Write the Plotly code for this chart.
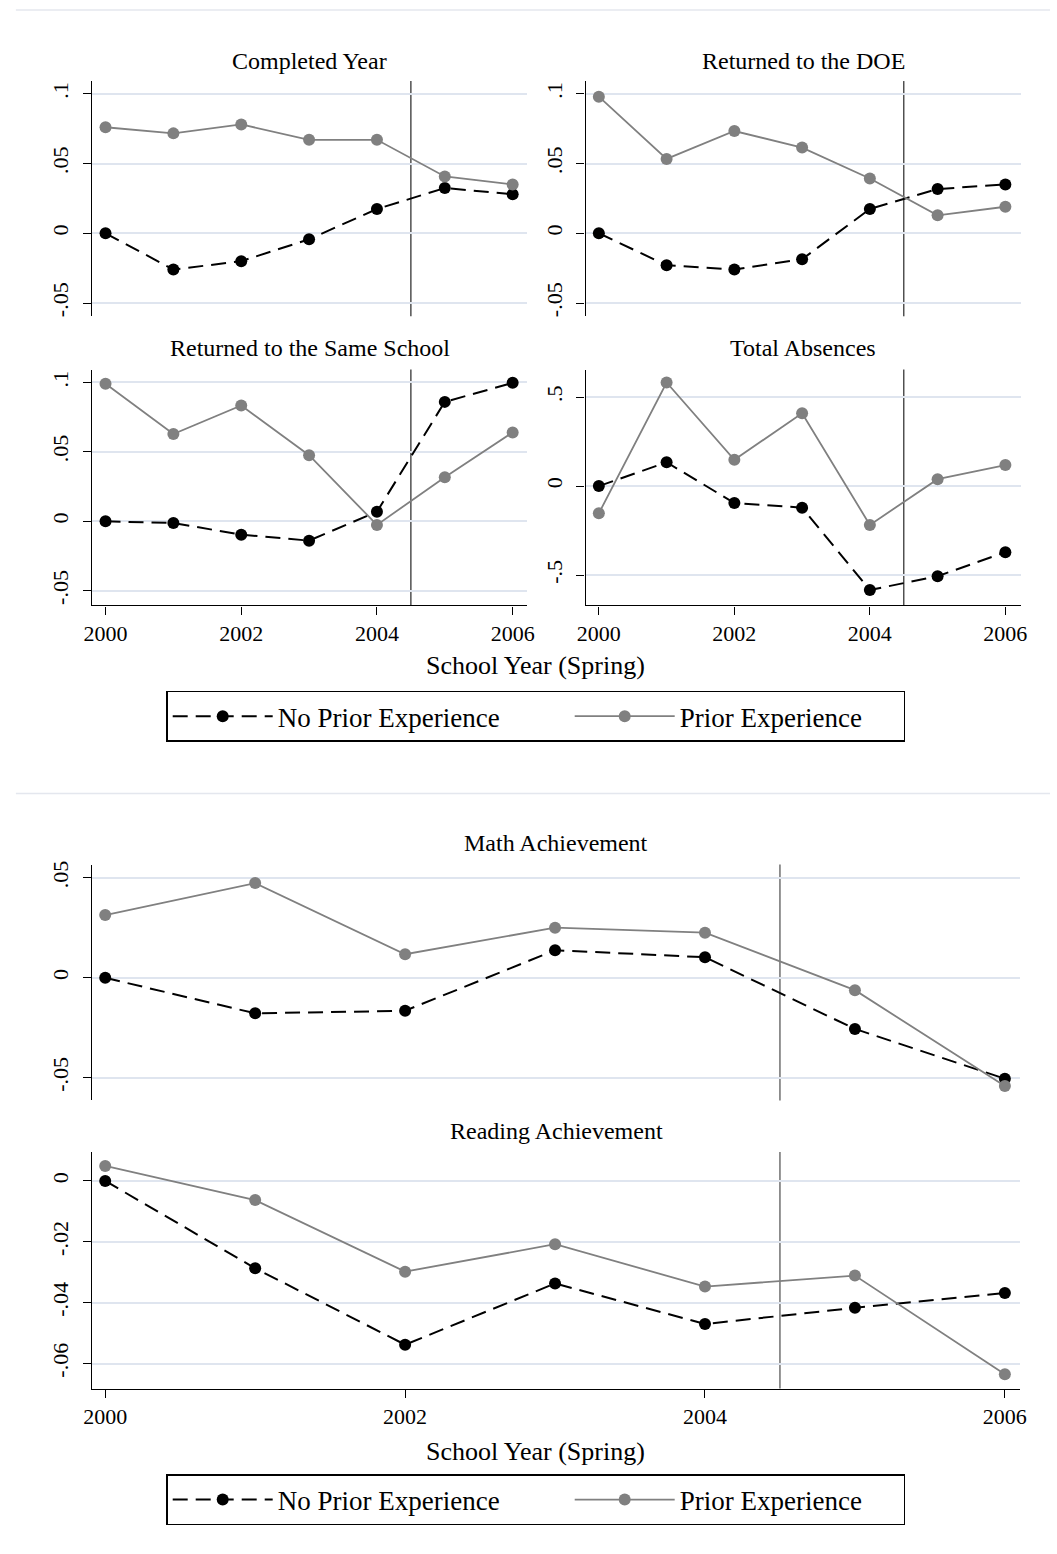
import plotly.graph_objects as go

# ---------------- data ----------------
YEARS = [2000, 2001, 2002, 2003, 2004, 2005, 2006]
CUTOFF_YEAR = 2004.5
X_TICKS = [2000, 2002, 2004, 2006]
X_TICK_TEXT = ["2000", "2002", "2004", "2006"]

SERIES_NAMES = ["No Prior Experience", "Prior Experience"]

COMPLETED_NO_PRIOR = [0.0, -0.026, -0.020, -0.0043, 0.0174, 0.0324, 0.028]
COMPLETED_PRIOR = [0.076, 0.0716, 0.078, 0.067, 0.067, 0.0407, 0.035]
DOE_NO_PRIOR = [0.0, -0.0229, -0.026, -0.0186, 0.0174, 0.0317, 0.035]
DOE_PRIOR = [0.0979, 0.0533, 0.0733, 0.0614, 0.0393, 0.0129, 0.019]
SAME_NO_PRIOR = [0.0, -0.0012, -0.0096, -0.0139, 0.0069, 0.086, 0.0997]
SAME_PRIOR = [0.099, 0.0629, 0.0834, 0.0476, -0.0026, 0.0318, 0.064]
ABS_NO_PRIOR = [0.0, 0.134, -0.095, -0.121, -0.584, -0.506, -0.371]
ABS_PRIOR = [-0.153, 0.582, 0.148, 0.409, -0.218, 0.039, 0.118]
MATH_NO_PRIOR = [0.0, -0.0178, -0.0165, 0.0138, 0.0103, -0.0256, -0.0505]
MATH_PRIOR = [0.0314, 0.0474, 0.0118, 0.0251, 0.0226, -0.0062, -0.0542]
READ_NO_PRIOR = [0.0, -0.0287, -0.0538, -0.0337, -0.047, -0.0417, -0.0368]
READ_PRIOR = [0.0049, -0.0063, -0.0298, -0.0208, -0.0347, -0.0311, -0.0635]

PANEL_TITLES = ["Completed Year", "Returned to the DOE", "Returned to the Same School",
                "Total Absences", "Math Achievement", "Reading Achievement"]
X_TITLE = "School Year (Spring)"

Y_TICKS_SMALL = [-0.05, 0, 0.05, 0.1]
Y_TICKS_SMALL_TEXT = ["-.05", "0", ".05", ".1"]
Y_TICKS_ABS = [-0.5, 0, 0.5]
Y_TICKS_ABS_TEXT = ["-.5", "0", ".5"]
Y_TICKS_MATH = [-0.05, 0, 0.05]
Y_TICKS_MATH_TEXT = ["-.05", "0", ".05"]
Y_TICKS_READ = [-0.06, -0.04, -0.02, 0]
Y_TICKS_READ_TEXT = ["-.06", "-.04", "-.02", "0"]

# ---------------- styling / layout ----------------
W, H = 1057, 1554
FONT = "Liberation Serif"
GRAY = "#808080"
GRID = "#dfe5ef"


def xd(a, b):
    return [a / W, b / W]


def yd(top, bottom):
    return [1 - bottom / H, 1 - top / H]


panels = [
    # (no prior, prior, xdomain, ydomain, xrange, yrange, yticks, yticktext, show x labels)
    (COMPLETED_NO_PRIOR, COMPLETED_PRIOR, xd(84.5, 526.2), yd(77.3, 313.3),
     [1999.804, 2006.215], [-0.0595, 0.1091], Y_TICKS_SMALL, Y_TICKS_SMALL_TEXT, False),
    (DOE_NO_PRIOR, DOE_PRIOR, xd(585.5, 1027.5), yd(77.3, 313.3),
     [1999.805, 2006.23], [-0.0595, 0.1091], Y_TICKS_SMALL, Y_TICKS_SMALL_TEXT, False),
    (SAME_NO_PRIOR, SAME_PRIOR, xd(84.5, 526.2), yd(366.7, 603.3),
     [1999.804, 2006.215], [-0.0605, 0.1093], Y_TICKS_SMALL, Y_TICKS_SMALL_TEXT, True),
    (ABS_NO_PRIOR, ABS_PRIOR, xd(585.5, 1027.5), yd(366.7, 603.3),
     [1999.805, 2006.23], [-0.670, 0.655], Y_TICKS_ABS, Y_TICKS_ABS_TEXT, True),
    (MATH_NO_PRIOR, MATH_PRIOR, xd(84.3, 1026.7), yd(863.3, 1100),
     [1999.912, 2006.102], [-0.0614, 0.0567], Y_TICKS_MATH, Y_TICKS_MATH_TEXT, False),
    (READ_NO_PRIOR, READ_PRIOR, xd(84.3, 1026.7), yd(1151.7, 1389),
     [1999.912, 2006.102], [-0.0682, 0.0095], Y_TICKS_READ, Y_TICKS_READ_TEXT, True),
]
title_pos = [(305.5, 57), (806.5, 57), (305.5, 345.5), (806.5, 345.5), (555.5, 842), (555.5, 1131)]

fig = go.Figure()
layout = dict(
    width=W, height=H, margin=dict(l=0, r=0, t=0, b=0),
    paper_bgcolor="white", plot_bgcolor="white",
    font=dict(family=FONT, color="black"),
    shapes=[], annotations=[],
)

for i, (nop, pri, xdom, ydom, xr, yr, yt, ytt, showx) in enumerate(panels):
    n = i + 1
    xa = "x" if n == 1 else f"x{n}"
    ya = "y" if n == 1 else f"y{n}"
    leg = "legend" if i < 4 else "legend2"
    show_leg = i in (0, 4)
    msize = 12
    fig.add_trace(go.Scatter(
        x=YEARS, y=nop, xaxis=xa, yaxis=ya, mode="lines+markers",
        name=SERIES_NAMES[0], legend=leg, showlegend=show_leg, legendwidth=287,
        line=dict(color="black", width=2, dash="15px,8px"),
        marker=dict(color="black", size=msize), hoverinfo="skip"))
    fig.add_trace(go.Scatter(
        x=YEARS, y=pri, xaxis=xa, yaxis=ya, mode="lines+markers",
        name=SERIES_NAMES[1], legend=leg, showlegend=show_leg, legendwidth=219,
        line=dict(color=GRAY, width=1.8),
        marker=dict(color=GRAY, size=msize), hoverinfo="skip"))

    xkey = "xaxis" if n == 1 else f"xaxis{n}"
    ykey = "yaxis" if n == 1 else f"yaxis{n}"
    layout[xkey] = dict(
        domain=xdom, range=xr, anchor=ya, tickvals=X_TICKS, ticktext=X_TICK_TEXT,
        showticklabels=showx, ticks="outside" if showx else "", ticklen=8,
        tickwidth=1.3, tickcolor="black", showline=showx, linecolor="black",
        linewidth=1.3, showgrid=False, zeroline=False, fixedrange=True,
        tickfont=dict(family=FONT, size=22, color="black"))
    layout[ykey] = dict(
        domain=ydom, range=yr, anchor=xa, tickvals=yt, ticktext=ytt, tickangle=-90,
        ticks="outside", ticklen=8, tickwidth=1.3, tickcolor="black",
        ticklabelstandoff=6,
        showline=True, linecolor="black", linewidth=1.3,
        showgrid=True, gridcolor=GRID, gridwidth=1.5, zeroline=False, fixedrange=True,
        tickfont=dict(family=FONT, size=22, color="black"))

    layout["shapes"].append(dict(
        type="line", xref=xa, yref=f"{ya} domain", x0=CUTOFF_YEAR, x1=CUTOFF_YEAR,
        y0=0, y1=1, line=dict(color="#505050" if i < 4 else "#5a5a5a", width=1.5 if i < 4 else 1.3),
        layer="below"))

    tx, ty = title_pos[i]
    layout["annotations"].append(dict(
        text=PANEL_TITLES[i], xref="paper", yref="paper", x=tx / W, y=1 - ty / H,
        xanchor="center", yanchor="middle", showarrow=False,
        font=dict(family=FONT, size=24, color="black")))

for yy in (664, 1452):
    layout["annotations"].append(dict(
        text=X_TITLE, xref="paper", yref="paper", x=535 / W, y=1 - yy / H,
        xanchor="center", yanchor="middle", showarrow=False,
        font=dict(family=FONT, size=26, color="black")))

for yy in (6, 792):
    layout["shapes"].append(dict(
        type="line", xref="paper", yref="paper", x0=7 / W, x1=1, y0=1 - yy / H, y1=1 - yy / H,
        line=dict(color="#e4e7ee", width=1.5)))

leg_common = dict(
    orientation="h", xanchor="center", yanchor="top", bgcolor="white",
    bordercolor="black", borderwidth=1.3, itemwidth=100, itemclick=False,
    itemdoubleclick=False, traceorder="normal",
    font=dict(family=FONT, size=27, color="black"))
layout["legend"] = dict(leg_common, x=535 / W, y=1 - 689 / H)
layout["legend2"] = dict(leg_common, x=535 / W, y=1 - 1475 / H)

fig.update_layout(**layout)
fig.write_html("out.html", config={"displayModeBar": False})
